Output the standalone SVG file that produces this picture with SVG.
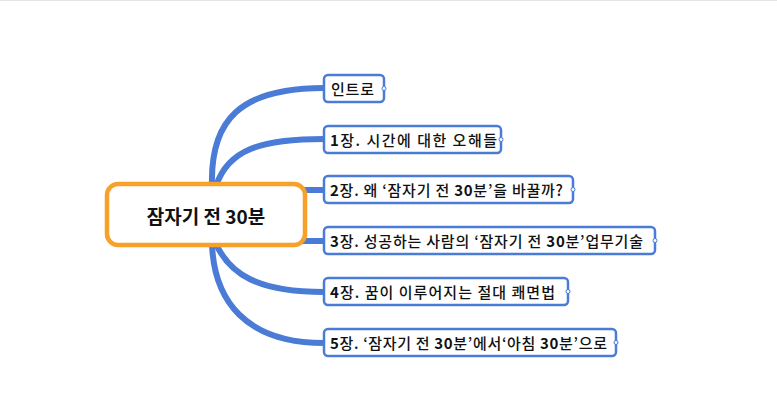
<svg xmlns="http://www.w3.org/2000/svg" width="777" height="400" viewBox="0 0 777 400">
<style>
.conn{fill:none;stroke:#4A7BD7;stroke-width:6;stroke-linecap:butt}
.box{fill:#fff;stroke:#4A7BD7;stroke-width:2.5}
.nub{fill:#fff;stroke:#4A7BD7;stroke-width:1}
.t{font-family:"Noto Sans CJK KR","Noto Sans",sans-serif;font-size:15px;fill:#111;font-weight:500}
.b{font-weight:700}
.root{fill:#fff;stroke:#F7A12B;stroke-width:4.5}
.rt{font-family:"Noto Sans CJK KR","Noto Sans",sans-serif;font-size:19px;font-weight:700;fill:#111}
</style>
<rect x="0" y="0" width="777" height="400" fill="#fff"/>
<line x1="0" y1="0.5" x2="777" y2="0.5" stroke="#e4e4e4" stroke-width="1"/>
<g id="connectors">
<path class="conn" d="M212,186 C210,120 240,88 324,88"/>
<path class="conn" d="M216,186 C228,150 260,139 324,139"/>
<path class="conn" d="M300,190 L324,190"/>
<path class="conn" d="M300,241 L324,241"/>
<path class="conn" d="M216,244 C230,274 257,292 324,292"/>
<path class="conn" d="M212,244 C214,300 245,343 324,343"/>
</g>
<g id="root">
<rect class="root" x="107" y="184" width="198" height="61" rx="11"/>
<text class="rt" x="206" y="224" text-anchor="middle">잠자기 전 30분</text>
</g>
<g id="n0">
<rect class="box" x="324" y="75" width="60" height="27" rx="4"/>
<circle class="nub" cx="384" cy="88.5" r="2"/>
<text class="t" x="331" y="95" textLength="43" lengthAdjust="spacing">인트로</text>
</g>
<g id="n1">
<rect class="box" x="324" y="126" width="177" height="27" rx="4"/>
<circle class="nub" cx="501" cy="139.5" r="2"/>
<text class="t" x="330" y="146" textLength="167" lengthAdjust="spacing"><tspan class="b">1</tspan>장. 시간에 대한 오해들</text>
</g>
<g id="n2">
<rect class="box" x="324" y="176" width="249" height="27" rx="4"/>
<circle class="nub" cx="573" cy="189.5" r="2"/>
<text class="t" x="330" y="196" textLength="233" lengthAdjust="spacing"><tspan class="b">2</tspan>장. 왜 ‘잠자기 전 <tspan class="b">30</tspan>분’을 바꿀까?</text>
</g>
<g id="n3">
<rect class="box" x="324" y="227" width="331" height="27" rx="4"/>
<circle class="nub" cx="655" cy="240.5" r="2"/>
<text class="t" x="330" y="247" textLength="313" lengthAdjust="spacing"><tspan class="b">3</tspan>장. 성공하는 사람의 ‘잠자기 전 <tspan class="b">30</tspan>분’업무기술</text>
</g>
<g id="n4">
<rect class="box" x="324" y="278" width="244" height="27" rx="4"/>
<circle class="nub" cx="568" cy="291.5" r="2"/>
<text class="t" x="330" y="298" textLength="225" lengthAdjust="spacing"><tspan class="b">4</tspan>장. 꿈이 이루어지는 절대 쾌면법</text>
</g>
<g id="n5">
<rect class="box" x="324" y="329" width="292" height="27" rx="4"/>
<circle class="nub" cx="616" cy="342.5" r="2"/>
<text class="t" x="330" y="349" textLength="277" lengthAdjust="spacing"><tspan class="b">5</tspan>장. ‘잠자기 전 <tspan class="b">30</tspan>분’에서‘아침 <tspan class="b">30</tspan>분’으로</text>
</g>
</svg>
